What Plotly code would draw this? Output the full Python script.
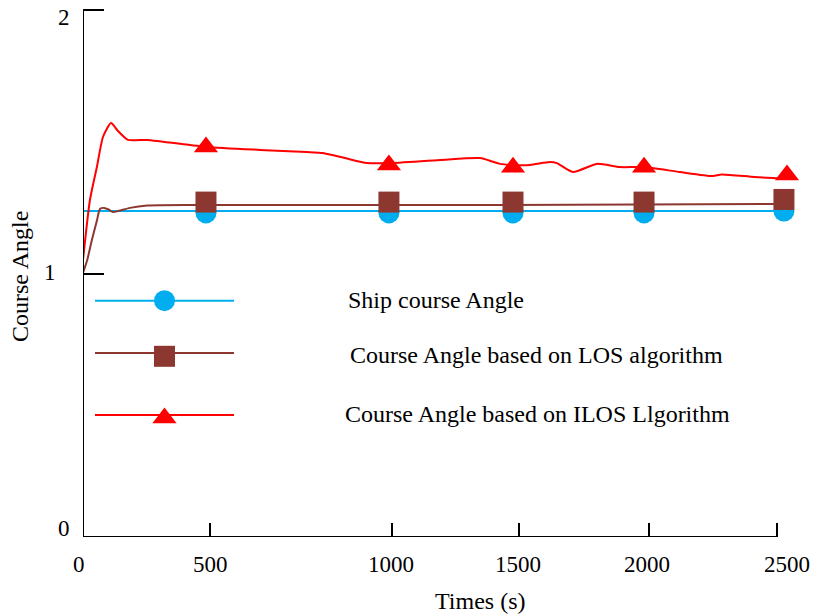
import plotly.graph_objects as go

# ---------------- data ----------------
series_names = ["Ship course Angle",
                "Course Angle based on LOS algorithm",
                "Course Angle based on ILOS Llgorithm"]

# Ship course angle (constant reference)
ship_t = [0, 2540]
ship_y = [1.237, 1.237]

# LOS algorithm response
los_t = [0, 15, 32, 50, 61, 76, 92, 108, 130, 169, 231, 400, 782, 1200, 1502, 2000, 2540]
los_y = [1.002, 1.05, 1.127, 1.20, 1.245, 1.249, 1.243, 1.233, 1.238, 1.249, 1.258, 1.260, 1.260, 1.260, 1.260, 1.262, 1.264]

# ILOS algorithm response
ilos_t = [0, 25, 50, 72, 101, 126, 162, 231, 447, 638, 807, 864, 944, 1023, 1102, 1286,
          1430, 1474, 1502, 1549, 1610, 1682, 1707, 1765, 1851, 1934, 2021, 2150, 2269,
          2300, 2420, 2540]
ilos_y = [1.051, 1.279, 1.404, 1.518, 1.571, 1.541, 1.507, 1.507, 1.480, 1.469, 1.461,
          1.457, 1.438, 1.419, 1.419, 1.431, 1.438, 1.425, 1.416, 1.412, 1.412, 1.423,
          1.419, 1.385, 1.416, 1.404, 1.404, 1.385, 1.370, 1.376, 1.366, 1.359]

# marker positions
mark_t = [443, 1102, 1549, 2021, 2525]
ship_mark_y = [1.230, 1.230, 1.230, 1.230, 1.237]
los_mark_y = [1.271, 1.271, 1.271, 1.271, 1.281]
ilos_mark_t = [443, 1102, 1549, 2021, 2536]
ilos_mark_y = [1.480, 1.412, 1.403, 1.403, 1.374]

# axis ticks
x_tickvals = [0, 457, 1113, 1570, 2039, 2500]
x_ticktext = ["0", "500", "1000", "1500", "2000", "2500"]
y_tickvals = [0, 1, 2]
y_ticktext = ["0", "1", "2"]

# ---------------- style ----------------
FONT = "Liberation Serif, Times New Roman, serif"
C_BLUE = "#00AEEF"
C_BROWN = "#8C3831"
C_RED = "#FF0000"
colors = [C_BLUE, C_BROWN, C_RED]
symbols = ["circle", "square", "triangle-up"]
msizes = [21, 21, 21]

W, H = 814, 615
ML, MR, MT, MB = 83, 14, 4, 78
plot_w = W - ML - MR
plot_h = H - MT - MB
px_per_unit = (777 - 83) / 2500.0
x_max = plot_w / px_per_unit
y_px_per_unit = (537 - 10) / 2.0
y_max = plot_h / y_px_per_unit


def px2paper(px, py):
    return (px - ML) / plot_w, (H - MB - py) / plot_h


fig = go.Figure()

curves = [(ship_t, ship_y), (los_t, los_y), (ilos_t, ilos_y)]
marks = [(mark_t, ship_mark_y), (mark_t, los_mark_y), (ilos_mark_t, ilos_mark_y)]

for i in range(3):
    t, y = curves[i]
    fig.add_trace(go.Scatter(x=t, y=y, mode="lines",
                             line=dict(color=colors[i], width=2, shape="spline", smoothing=0.6),
                             showlegend=False, hoverinfo="skip"))
    mt, my = marks[i]
    fig.add_trace(go.Scatter(x=mt, y=my, mode="markers",
                             marker=dict(symbol=symbols[i], size=msizes[i], color=colors[i],
                                         line=dict(width=0)),
                             cliponaxis=False, showlegend=False, hoverinfo="skip"))

# ---- custom legend drawn in pixel-like overlay axes ----
leg_rows_y = [300.7, 353, 415]
leg_marker_y = [300.7, 356.3, 418]
leg_text_x = [435.5, 536.5, 537]
leg_text_y = [300, 355, 414]
for i in range(3):
    fig.add_trace(go.Scatter(x=[95, 234], y=[leg_rows_y[i]] * 2, mode="lines",
                             line=dict(color=colors[i], width=2),
                             xaxis="x2", yaxis="y2", showlegend=False, hoverinfo="skip"))
    fig.add_trace(go.Scatter(x=[164.5], y=[leg_marker_y[i]], mode="markers",
                             marker=dict(symbol=symbols[i], size=msizes[i], color=colors[i],
                                         line=dict(width=0)),
                             xaxis="x2", yaxis="y2", cliponaxis=False,
                             showlegend=False, hoverinfo="skip"))
    ax, ay = px2paper(leg_text_x[i], leg_text_y[i])
    fig.add_annotation(x=ax, y=ay, xref="paper", yref="paper",
                       text=series_names[i], showarrow=False,
                       font=dict(family=FONT, size=24, color="black"),
                       xanchor="center", yanchor="middle")

# y tick labels (placed as in the original figure)
ylab_px = [(72, 528), (58, 272), (72, 18)]
for lbl, (lx, ly) in zip(y_ticktext, ylab_px):
    ax, ay = px2paper(lx, ly)
    fig.add_annotation(x=ax, y=ay, xref="paper", yref="paper", text=lbl, showarrow=False,
                       font=dict(family=FONT, size=23, color="black"),
                       xanchor="right", yanchor="middle")

# x tick labels
xlab_px = [79, 210, 391, 518, 647, 787]
for lbl, lx in zip(x_ticktext, xlab_px):
    ax, ay = px2paper(lx, 564)
    fig.add_annotation(x=ax, y=ay, xref="paper", yref="paper", text=lbl, showarrow=False,
                       font=dict(family=FONT, size=23, color="black"),
                       xanchor="center", yanchor="middle")

# axis titles
ax, ay = px2paper(480, 601)
fig.add_annotation(x=ax, y=ay, xref="paper", yref="paper", text="Times (s)", showarrow=False,
                   font=dict(family=FONT, size=24, color="black"),
                   xanchor="center", yanchor="middle")
ax, ay = px2paper(20, 277)
fig.add_annotation(x=ax, y=ay, xref="paper", yref="paper", text="Course Angle", showarrow=False,
                   textangle=-90, font=dict(family=FONT, size=24, color="black"),
                   xanchor="center", yanchor="middle")

# bottom axis line (ends at the last tick)
fig.add_shape(type="line", xref="x", yref="y", x0=0, x1=2500, y0=0, y1=0,
              line=dict(color="black", width=2))
# y axis line
fig.add_shape(type="line", xref="x", yref="y", x0=0, x1=0, y0=0, y1=2,
              line=dict(color="black", width=2))

fig.update_layout(
    width=W, height=H,
    margin=dict(l=ML, r=MR, t=MT, b=MB),
    paper_bgcolor="white", plot_bgcolor="white",
    font=dict(family=FONT, color="black"),
    xaxis=dict(range=[0, x_max], showgrid=False, zeroline=False, showline=False,
               ticks="inside", ticklen=14, tickwidth=2, tickcolor="black",
               tickvals=x_tickvals, showticklabels=False),
    yaxis=dict(range=[0, y_max], showgrid=False, zeroline=False, showline=False,
               ticks="inside", ticklen=21, tickwidth=2, tickcolor="black",
               tickvals=y_tickvals, showticklabels=False),
    xaxis2=dict(range=[ML, W - MR], overlaying="x", visible=False, fixedrange=True),
    yaxis2=dict(range=[H - MB, MT], overlaying="y", visible=False, fixedrange=True),
)

fig.write_html("out.html")
